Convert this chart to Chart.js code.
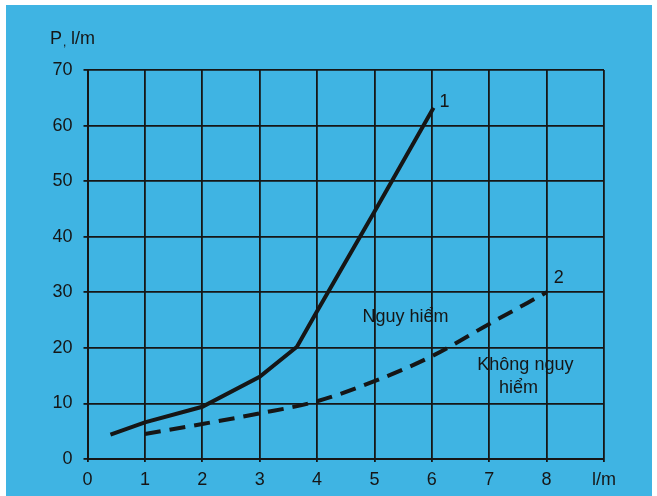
<!DOCTYPE html>
<html lang="vi">
<head>
<meta charset="UTF-8">
<title>P - l/m</title>
<script src="https://cdn.jsdelivr.net/npm/chart.js"></script>
<style>
  html, body { margin: 0; padding: 0; background: #fff; }
  #wrap { position: absolute; left: 6px; top: 5px; width: 646px; height: 491px; background: #3fb4e3; }
  #box { position: absolute; left: 0; top: 0; width: 657px; height: 496px; }
</style>
</head>
<body>
<div id="wrap"></div>
<div id="box"><canvas id="chart"></canvas></div>
<script>
  // curve 1 (solid) and curve 2 (dashed)
  const x1 = [0.4, 1, 2, 3, 3.65, 4, 5, 6.03]
  const y1 = [4.4, 6.6, 9.4, 14.8, 20.2, 26.6, 44.5, 63.2]
  const x2 = [1, 2, 3, 4, 5, 6, 7, 8]
  const y2 = [4.5, 6.3, 8.2, 10.4, 14, 18.5, 24.3, 30]
  const xTicks = ["0", "1", "2", "3", "4", "5", "6", "7", "8", "l/m"]
  const yTicks = [0, 10, 20, 30, 40, 50, 60, 70]

  // text notes placed in data units
  const notes = [
    { text: "1", x: 6.22, y: 64.2 },
    { text: "2", x: 8.21, y: 32.6 },
    { text: "Nguy hiểm", x: 5.54, y: 25.5 },
    { text: "Không nguy", x: 7.63, y: 16.9 },
    { text: "hiểm", x: 7.51, y: 12.8 }
  ]

  const ink = "#161616"
  const font = { family: "'Liberation Sans', Arial, sans-serif", size: 18 }

  const notePlugin = {
    id: "notes",
    afterDatasetsDraw(chart) {
      const { ctx, scales } = chart
      ctx.save()
      ctx.fillStyle = ink
      ctx.font = "18px 'Liberation Sans', Arial, sans-serif"
      ctx.textAlign = "center"
      ctx.textBaseline = "middle"
      for (const n of notes) {
        ctx.fillText(n.text, scales.x.getPixelForValue(n.x), scales.y.getPixelForValue(n.y))
      }
      // y axis title
      ctx.textAlign = "left"
      ctx.fillText("P", 50, 39)
      ctx.font = "12px 'Liberation Sans', Arial, sans-serif"
      ctx.fillText(",", 63, 43)
      ctx.font = "18px 'Liberation Sans', Arial, sans-serif"
      ctx.fillText("l/m", 71, 39)
      ctx.restore()
    }
  }

  new Chart(document.getElementById("chart"), {
    type: "line",
    data: {
      datasets: [
        {
          data: x1.map((x, i) => ({ x, y: y1[i] })),
          borderColor: ink,
          borderWidth: 4,
          pointRadius: 0,
          tension: 0,
          fill: false
        },
        {
          data: x2.map((x, i) => ({ x, y: y2[i] })),
          borderColor: ink,
          borderWidth: 4,
          borderDash: [16, 9],
          pointRadius: 0,
          cubicInterpolationMode: "monotone",
          fill: false
        }
      ]
    },
    options: {
      responsive: true,
      maintainAspectRatio: false,
      animation: false,
      layout: { padding: { top: 70, right: 53, left: 0, bottom: 0 } },
      plugins: { legend: { display: false }, tooltip: { enabled: false } },
      scales: {
        x: {
          type: "linear",
          min: 0,
          max: 9,
          afterBuildTicks(scale) {
            scale.ticks = xTicks.map((t, i) => ({ value: i }))
          },
          afterFit(scale) { scale.height = 37 },
          ticks: {
            callback: (v) => xTicks[v],
            color: ink,
            font,
            padding: 7,
            maxRotation: 0
          },
          grid: { color: ink, lineWidth: 1.8, tickLength: 3 },
          border: { color: ink, width: 2 }
        },
        y: {
          min: 0,
          max: 70,
          afterBuildTicks(scale) {
            scale.ticks = yTicks.map((v) => ({ value: v }))
          },
          afterFit(scale) { scale.width = 87.5 },
          ticks: { color: ink, font, padding: 11 },
          grid: { color: ink, lineWidth: 1.8, tickLength: 4 },
          border: { color: ink, width: 2 }
        }
      }
    },
    plugins: [notePlugin]
  })
</script>
</body>
</html>
